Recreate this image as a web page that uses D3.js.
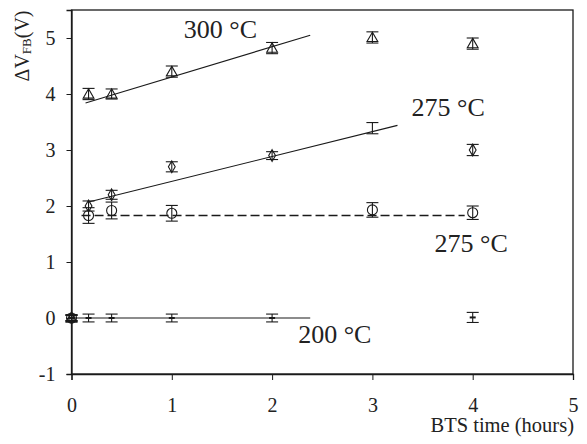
<!DOCTYPE html>
<html>
<head>
<meta charset="utf-8">
<script src="https://cdn.jsdelivr.net/npm/d3@7"></script>
<style>
  html, body { margin: 0; padding: 0; background: #fff; }
  svg { display: block; font-family: "Liberation Serif", "Times New Roman", serif; }
</style>
</head>
<body>
<svg id="chart" width="587" height="444"></svg>
<script>
// Flat-band voltage shift vs. bias-temperature-stress time
const xTicks = [0, 1, 2, 3, 4, 5];
const yTicks = [-1, 0, 1, 2, 3, 4, 5];

// 300 °C (triangles)
const t300 = [0, 0.17, 0.4, 1, 2, 3, 4];
const v300 = [0, 4.0, 4.0, 4.4, 4.82, 5.01, 4.9];
const e300 = [0.05, 0.1, 0.09, 0.1, 0.1, 0.1, 0.1];

// 275 °C (diamonds)
const t275a = [0, 0.17, 0.4, 1, 2, 3, 4];
const v275a = [0, 2.0, 2.2, 2.7, 2.9, 3.39, 3.0];
const e275a = [0.05, 0.09, 0.08, 0.09, 0.07, 0.1, 0.1];
const m275a = [true, true, true, true, true, false, true];

// 275 °C (circles)
const t275b = [0, 0.17, 0.4, 1, 3, 4];
const v275b = [0, 1.83, 1.92, 1.87, 1.93, 1.88];
const e275b = [0.05, 0.14, 0.15, 0.14, 0.13, 0.12];

// 200 °C
const t200 = [0, 0.17, 0.4, 1, 2, 4];
const v200 = [0, 0, 0, 0, 0, 0.01];
const e200 = [0.06, 0.07, 0.07, 0.07, 0.07, 0.09];

// Fitted trend lines
const fit300 = { x: [0.14, 2.38], y: [3.84, 5.05] };
const fit275a = { x: [0.17, 3.25], y: [2.07, 3.44] };
const fit275b = { x: [0.1, 3.92], y: [1.83, 1.83] };
const fit200 = { x: [0, 2.38], y: [0, 0] };

const labels = [
  { text: "300 °C", x: 1.12, y: 5.0 },
  { text: "275 °C", x: 3.39, y: 3.61 },
  { text: "275 °C", x: 3.62, y: 1.18 },
  { text: "200 °C", x: 2.26, y: -0.45 }
];

const svg = d3.select("#chart");
const ink = "#1a1a1a";
const plotL = 71.5, plotR = 573, plotT = 10, plotB = 374;

const x = d3.scaleLinear().domain([0, 5]).range([plotL, plotR]);
const y = d3.scaleLinear().domain([-1, 5.5]).range([plotB, plotT]);

// frame
svg.append("rect")
  .attr("x", plotL).attr("y", plotT)
  .attr("width", plotR - plotL).attr("height", plotB - plotT)
  .attr("fill", "none").attr("stroke", ink).attr("stroke-width", 1.3);

const plain = d => String(d);
const yAxis = svg.append("g")
  .attr("transform", `translate(${plotL},0)`)
  .call(d3.axisLeft(y).tickValues(yTicks).tickSize(5).tickPadding(11).tickFormat(plain));
const xAxis = svg.append("g")
  .attr("transform", `translate(0,${plotB})`)
  .call(d3.axisBottom(x).tickValues(xTicks).tickSize(6).tickPadding(18).tickFormat(plain));

[yAxis, xAxis].forEach(g => {
  g.select(".domain").attr("stroke", ink).attr("stroke-width", 1.3);
  g.selectAll(".tick line").attr("stroke", ink).attr("stroke-width", 1);
  g.selectAll(".tick text").attr("fill", "#222").style("font-family", "Liberation Serif, serif").style("font-size", "20px");
});

// axis titles
svg.append("text")
  .attr("x", 574).attr("y", 432)
  .attr("text-anchor", "end")
  .attr("fill", "#222")
  .style("font-size", "20.5px")
  .text("BTS time (hours)");

const yt = svg.append("text")
  .attr("transform", "translate(29,46) rotate(-90)")
  .attr("text-anchor", "middle")
  .attr("fill", "#222")
  .style("font-size", "20px");
yt.append("tspan").text("ΔV");
yt.append("tspan").attr("dy", 2).style("font-size", "13px").text("FB");
yt.append("tspan").attr("dy", -2).text("(V)");

// fit lines
const line = d3.line().x(d => x(d[0])).y(d => y(d[1]));
function drawFit(f, dashed) {
  svg.append("path")
    .datum(d3.zip(f.x, f.y))
    .attr("d", line)
    .attr("fill", "none")
    .attr("stroke", ink)
    .attr("stroke-width", dashed ? 1.6 : 1.1)
    .attr("stroke-dasharray", dashed ? "9,4" : null);
}
drawFit(fit300, false);
drawFit(fit275a, false);
drawFit(fit275b, true);
drawFit(fit200, false);

// error bars
function drawErr(ts, vs, es) {
  const g = svg.append("g").attr("stroke", ink).attr("stroke-width", 1.1).attr("fill", "none");
  ts.forEach((t, i) => {
    const cx = x(t), y0 = y(vs[i] - es[i]), y1 = y(vs[i] + es[i]);
    g.append("line").attr("x1", cx).attr("x2", cx).attr("y1", y0).attr("y2", y1);
    g.append("line").attr("x1", cx - 6).attr("x2", cx + 6).attr("y1", y0).attr("y2", y0);
    g.append("line").attr("x1", cx - 6).attr("x2", cx + 6).attr("y1", y1).attr("y2", y1);
  });
}
drawErr(t300, v300, e300);
drawErr(t275a, v275a, e275a);
drawErr(t275b, v275b, e275b);
drawErr(t200, v200, e200);

// markers
const triSym = d3.symbol().type(d3.symbolTriangle).size(50);
const diaSym = d3.symbol().type(d3.symbolDiamond).size(40);
svg.append("g").selectAll("path").data(d3.zip(t300, v300)).join("path")
  .attr("d", triSym)
  .attr("transform", d => `translate(${x(d[0])},${y(d[1]) + 1})`)
  .attr("fill", "none").attr("stroke", ink).attr("stroke-width", 1.1);
svg.append("g").selectAll("path").data(d3.zip(t275a, v275a, m275a).filter(d => d[2])).join("path")
  .attr("d", diaSym)
  .attr("transform", d => `translate(${x(d[0])},${y(d[1])})`)
  .attr("fill", "none").attr("stroke", ink).attr("stroke-width", 1.1);
svg.append("g").selectAll("circle").data(d3.zip(t275b, v275b)).join("circle")
  .attr("cx", d => x(d[0])).attr("cy", d => y(d[1])).attr("r", 5)
  .attr("fill", "none").attr("stroke", ink).attr("stroke-width", 1.1);
svg.append("g").selectAll("line").data(d3.zip(t200, v200)).join("line")
  .attr("x1", d => x(d[0]) - 3).attr("x2", d => x(d[0]) + 3)
  .attr("y1", d => y(d[1])).attr("y2", d => y(d[1]))
  .attr("stroke", ink).attr("stroke-width", 2);

// temperature labels
svg.append("g").selectAll("text").data(labels).join("text")
  .attr("x", d => x(d.x)).attr("y", d => y(d.y))
  .attr("fill", "#222")
  .style("font-size", "26px")
  .text(d => d.text);
</script>
</body>
</html>
